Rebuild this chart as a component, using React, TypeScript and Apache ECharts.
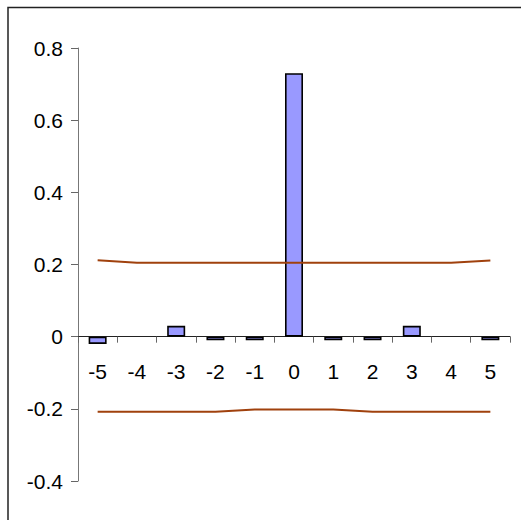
import React, { useEffect, useRef } from "react";
import * as echarts from "echarts";

const categories = ["-5", "-4", "-3", "-2", "-1", "0", "1", "2", "3", "4", "5"];
const barValues = [-0.02, 0, 0.03, -0.01, -0.01, 0.73, -0.01, -0.01, 0.03, 0, -0.01];
const upperLimit = [0.212, 0.205, 0.205, 0.205, 0.205, 0.205, 0.205, 0.205, 0.205, 0.205, 0.211];
const lowerLimit = [-0.208, -0.208, -0.208, -0.208, -0.202, -0.202, -0.202, -0.208, -0.208, -0.208, -0.208];
const yTicks = { min: -0.4, max: 0.8, interval: 0.2 };

const FONT = '"Liberation Sans", Arial, sans-serif';
const GRID_TOP = 48;
const GRID_BOTTOM = 39;
const CHART_H = 520;

export default function App() {
  const ref = useRef<HTMLDivElement>(null);
  useEffect(() => {
    if (!ref.current) return;
    const chart = echarts.init(ref.current, null, { renderer: "svg" });
    const plotH = CHART_H - GRID_TOP - GRID_BOTTOM;
    const zeroOffset = -((0 - yTicks.min) / (yTicks.max - yTicks.min)) * plotH;
    chart.setOption({
      animation: false,
      backgroundColor: "#ffffff",
      textStyle: { fontFamily: FONT },
      graphic: [
        {
          type: "rect",
          shape: { x: 8, y: 7.5, width: 530, height: 530 },
          style: { fill: "none", stroke: "#222", lineWidth: 1.5 },
          silent: true,
        },
      ],
      grid: { left: 78, right: 11, top: GRID_TOP, bottom: GRID_BOTTOM, containLabel: false },
      xAxis: {
        type: "category",
        data: categories,
        boundaryGap: true,
        offset: zeroOffset,
        axisLine: { onZero: false, lineStyle: { color: "#222", width: 1 } },
        axisTick: { show: true, alignWithLabel: false, length: 6, lineStyle: { color: "#666" } },
        axisLabel: { fontSize: 21, color: "#000", margin: 24, fontFamily: FONT },
        splitLine: { show: false },
      },
      yAxis: {
        type: "value",
        min: yTicks.min,
        max: yTicks.max,
        interval: yTicks.interval,
        axisLine: { show: true, onZero: false, lineStyle: { color: "#777", width: 1 } },
        axisTick: { show: true, length: 7, lineStyle: { color: "#666" } },
        axisLabel: {
          fontSize: 21,
          color: "#000",
          margin: 15,
          fontFamily: FONT,
          formatter: (v: number) => {
            const r = Math.round(v * 10) / 10;
            return r === 0 ? "0" : String(r);
          },
        },
        splitLine: { show: false },
      },
      series: [
        {
          type: "bar",
          data: barValues.map((v) => (v === 0 ? "-" : v)),
          barWidth: 18,
          itemStyle: { color: "#9999ff", borderColor: "#000", borderWidth: 1.6 },
          z: 2,
        },
        {
          type: "line",
          data: upperLimit,
          showSymbol: false,
          symbol: "none",
          lineStyle: { color: "#a0410d", width: 2 },
          z: 3,
        },
        {
          type: "line",
          data: lowerLimit,
          showSymbol: false,
          symbol: "none",
          lineStyle: { color: "#a0410d", width: 2 },
          z: 3,
        },
      ],
    });
    return () => chart.dispose();
  }, []);
  return (
    <div
      ref={ref}
      style={{ position: "fixed", left: 0, top: 0, width: 521, height: 520 }}
    />
  );
}
